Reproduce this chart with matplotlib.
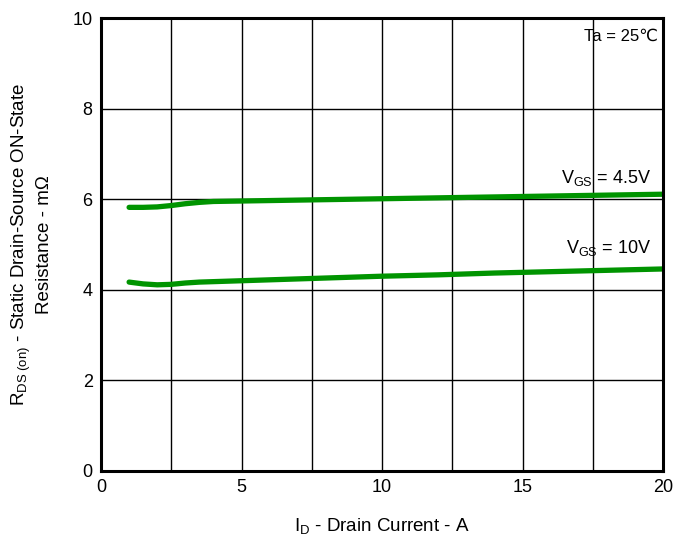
import numpy as np
import matplotlib
matplotlib.use("Agg")
import matplotlib.pyplot as plt

plt.rcParams['font.family'] = ['Liberation Sans', 'DejaVu Sans']
plt.rcParams['mathtext.fontset'] = 'custom'
plt.rcParams['mathtext.rm'] = 'Liberation Sans'
plt.rcParams['mathtext.it'] = 'Liberation Sans'

# drain current, A
i_d = [1, 1.5, 2, 2.5, 3, 3.5, 4, 5, 6, 8, 10, 12, 14, 16, 18, 20]
# R_DS(on), mOhm
r_45 = [5.82, 5.82, 5.83, 5.86, 5.90, 5.93, 5.95, 5.96, 5.97, 5.99, 6.01, 6.03, 6.05, 6.07, 6.09, 6.11]
r_10 = [4.17, 4.13, 4.11, 4.12, 4.15, 4.17, 4.18, 4.20, 4.22, 4.26, 4.30, 4.33, 4.37, 4.40, 4.43, 4.46]

green = '#009400'

fig = plt.figure(figsize=(6.88, 5.36), dpi=100)
ax = fig.add_axes([0.1468, 0.1213, 0.8169, 0.8451])

ax.plot(i_d, r_45, color=green, lw=3.8, solid_capstyle='round')
ax.plot(i_d, r_10, color=green, lw=3.8, solid_capstyle='round')

ax.set_xlim(0, 20)
ax.set_ylim(0, 10)
ax.set_xticks([0, 5, 10, 15, 20])
ax.set_yticks([0, 2, 4, 6, 8, 10])
ax.set_xticks(np.arange(0, 20.1, 2.5), minor=True)
ax.grid(True, which='both', color='black', lw=1.0)
ax.tick_params(which='both', length=0, labelsize=13, pad=6)
ax.set_axisbelow(True)
for s in ax.spines.values():
    s.set_linewidth(2.2)

ax.text(19.8, 9.6, 'Ta = 25℃', ha='right', va='center', fontsize=12)
ax.text(19.6, 6.47, r'V$_{\mathrm{GS}}$ = 4.5V', ha='right', va='center', fontsize=13)
ax.text(19.6, 4.92, r'V$_{\mathrm{GS}}$ = 10V', ha='right', va='center', fontsize=13)

ax.set_xlabel(r'I$_{\mathrm{D}}$ - Drain Current - A', fontsize=13.5, labelpad=14)
ax.set_ylabel('R$_{\\mathrm{DS\\ (on)}}$ - Static Drain-Source ON-State\nResistance - m\u03a9',
              fontsize=13.5, labelpad=14)

fig.savefig('out.png', dpi=100)
